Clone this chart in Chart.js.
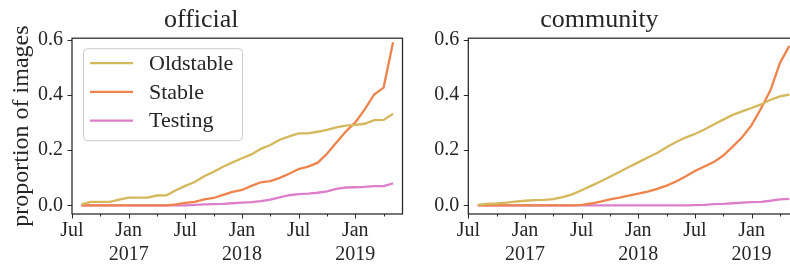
<!DOCTYPE html>
<html>
<head>
<meta charset="utf-8">
<script src="https://cdn.jsdelivr.net/npm/chart.js@4.4.1/dist/chart.umd.min.js"></script>
<style>
  html, body { margin: 0; padding: 0; background: #fff; overflow: hidden; }
  #wrap { position: relative; width: 790px; height: 269px; overflow: hidden; }
  canvas { position: absolute; top: 0; }
  #officialChart { left: 0; }
  #communityChart { left: 400px; }
</style>
</head>
<body>
<div id="wrap">
  <canvas id="officialChart" width="420" height="269"></canvas>
  <canvas id="communityChart" width="410" height="269"></canvas>
</div>
<script>
// months counted from Jul 2016 (0 = Jul 2016)
const months = [1, 2, 3, 4, 5, 6, 7, 8, 9, 10, 11, 12, 13, 14, 15, 16, 17,
                18, 19, 20, 21, 22, 23, 24, 25, 26, 27, 28, 29, 30, 31, 32, 33, 34];

const officialOldstable = [0.004, 0.013, 0.013, 0.013, 0.021, 0.028, 0.028, 0.028, 0.036, 0.037,
  0.055, 0.071, 0.085, 0.106, 0.122, 0.140, 0.156, 0.171, 0.185, 0.205, 0.219, 0.238, 0.250,
  0.261, 0.261, 0.267, 0.274, 0.283, 0.289, 0.292, 0.296, 0.309, 0.310, 0.332];
const officialStable = [0, 0, 0, 0, 0, 0, 0, 0, 0, 0,
  0.004, 0.009, 0.013, 0.022, 0.027, 0.038, 0.049, 0.056, 0.071, 0.084, 0.088, 0.100, 0.115,
  0.132, 0.141, 0.154, 0.187, 0.228, 0.268, 0.301, 0.348, 0.402, 0.427, 0.591];
const officialTesting = [0, 0, 0, 0, 0, 0, 0, 0, 0, 0, 0, 0,
  0.002, 0.004, 0.005, 0.006, 0.008, 0.010, 0.012, 0.016, 0.021, 0.029, 0.037,
  0.041, 0.043, 0.046, 0.051, 0.060, 0.065, 0.066, 0.067, 0.070, 0.070, 0.080];

const communityOldstable = [0.002, 0.006, 0.007, 0.010, 0.014, 0.017, 0.019, 0.020, 0.023, 0.030,
  0.040, 0.055, 0.071, 0.087, 0.104, 0.121, 0.139, 0.156, 0.174, 0.190, 0.211, 0.230, 0.246,
  0.259, 0.275, 0.293, 0.311, 0.328, 0.341, 0.353, 0.366, 0.383, 0.395, 0.402];
const communityStable = [0, 0, 0, 0, 0, 0, 0, 0, 0, 0, 0,
  0.002, 0.007, 0.014, 0.022, 0.028, 0.036, 0.043, 0.050, 0.060, 0.072, 0.087, 0.105,
  0.125, 0.141, 0.157, 0.181, 0.213, 0.247, 0.291, 0.351, 0.417, 0.516, 0.578];
const communityTesting = [0, 0, 0, 0, 0, 0, 0, 0, 0, 0, 0, 0, 0, 0, 0, 0, 0, 0, 0, 0, 0, 0, 0,
  0.001, 0.002, 0.005, 0.006, 0.008, 0.010, 0.012, 0.013, 0.017, 0.022, 0.024];

const seriesNames = ['Oldstable', 'Stable', 'Testing'];
const seriesColors = ['#d5b75c', '#ee844c', '#dd7ecb'];

const xTickMonths = [0, 3, 6, 9, 12, 15, 18, 21, 24, 27, 30, 33];
const xTickLabels = ['Jul', '', ['Jan', '2017'], '', 'Jul', '', ['Jan', '2018'], '', 'Jul', '', ['Jan', '2019'], ''];
const yTickValues = [0, 0.2, 0.4, 0.6];
const yTickLabels = ['0.0', '0.2', '0.4', '0.6'];

const ink = '#262626';
Chart.defaults.font.family = '"Liberation Serif", serif';
Chart.defaults.color = ink;

// box around the plot + outward tick marks (major / minor)
const framePlugin = {
  id: 'frame',
  afterDraw(chart) {
    const { ctx, chartArea: a } = chart;
    const x = chart.scales.x, y = chart.scales.y;
    ctx.save();
    ctx.strokeStyle = ink;
    ctx.lineWidth = 1.25;
    ctx.strokeRect(a.left, a.top, a.right - a.left, a.bottom - a.top);
    ctx.beginPath();
    xTickMonths.forEach((m, i) => {
      const px = Math.round(x.getPixelForValue(m)) + 0.5;
      const len = xTickLabels[i] === '' ? 2.5 : 4.5;
      ctx.moveTo(px, a.bottom);
      ctx.lineTo(px, a.bottom + len);
    });
    yTickValues.forEach(v => {
      const py = Math.round(y.getPixelForValue(v)) + 0.5;
      ctx.moveTo(a.left - 4.5, py);
      ctx.lineTo(a.left, py);
    });
    ctx.lineWidth = 1;
    ctx.stroke();
    ctx.restore();
  }
};

// matplotlib-style legend inside the plot, upper left
const boxLegend = {
  id: 'boxLegend',
  afterDraw(chart, args, opts) {
    if (!opts.show) return;
    const { ctx, chartArea: a } = chart;
    const left = a.left + 11, top = a.top + 10, w = 159, h = 92;
    ctx.save();
    ctx.beginPath();
    ctx.roundRect(left + 0.5, top + 0.5, w, h, 4);
    ctx.fillStyle = 'rgba(255,255,255,0.8)';
    ctx.fill();
    ctx.strokeStyle = '#cccccc';
    ctx.lineWidth = 1;
    ctx.stroke();
    ctx.font = '22px "Liberation Serif", serif';
    ctx.textBaseline = 'middle';
    ctx.fillStyle = ink;
    chart.data.datasets.forEach((ds, i) => {
      const cy = top + 15 + i * 28.7;
      ctx.beginPath();
      ctx.moveTo(left + 7, cy);
      ctx.lineTo(left + 50, cy);
      ctx.strokeStyle = ds.borderColor;
      ctx.lineWidth = 2.3;
      ctx.stroke();
      ctx.fillText(ds.label, left + 66, cy + 1);
    });
    ctx.restore();
  }
};

function makeChart(id, title, series, yAxisWidth, rightPad, withLegend, yTitle) {
  const ctx = document.getElementById(id).getContext('2d');
  return new Chart(ctx, {
    type: 'line',
    data: {
      datasets: series.map((vals, i) => ({
        label: seriesNames[i],
        data: months.map((m, j) => ({ x: m, y: vals[j] })),
        borderColor: seriesColors[i],
        borderWidth: 2.3,
        pointRadius: 0,
        tension: 0,
        fill: false
      }))
    },
    options: {
      responsive: false,
      animation: false,
      events: [],
      layout: { padding: { left: 0, right: rightPad, top: 0, bottom: 0 } },
      plugins: {
        legend: { display: false },
        tooltip: { enabled: false },
        title: {
          display: true,
          text: title,
          color: ink,
          font: { size: 26, weight: 'normal' },
          padding: { top: 5, bottom: 2 }
        },
        boxLegend: { show: withLegend }
      },
      scales: {
        x: {
          type: 'linear',
          min: 0,
          max: 35,
          grid: { display: false, drawTicks: false },
          border: { display: false },
          afterBuildTicks: s => { s.ticks = xTickMonths.map(v => ({ value: v })); },
          afterFit: s => { s.height = 55; },
          ticks: {
            autoSkip: false,
            maxRotation: 0,
            padding: 5,
            color: ink,
            font: { size: 20, lineHeight: 1.18 },
            callback: (v) => xTickLabels[xTickMonths.indexOf(v)]
          }
        },
        y: {
          min: -0.031,
          max: 0.606,
          grid: { display: false, drawTicks: false },
          border: { display: false },
          afterBuildTicks: s => { s.ticks = yTickValues.map(v => ({ value: v })); },
          afterFit: s => { s.width = yAxisWidth; },
          title: {
            display: !!yTitle,
            text: yTitle || '',
            color: ink,
            font: { size: 24, weight: 'normal' },
            padding: { top: 7, bottom: 0 }
          },
          ticks: {
            padding: 9,
            color: ink,
            font: { size: 20 },
            callback: (v) => yTickLabels[yTickValues.indexOf(v)]
          }
        }
      }
    },
    plugins: [framePlugin, boxLegend]
  });
}

makeChart('officialChart', 'official', [officialOldstable, officialStable, officialTesting], 72, 17.5, true, 'proportion of images');
makeChart('communityChart', 'community', [communityOldstable, communityStable, communityTesting], 68.3, 11.2, false, '');
</script>
</body>
</html>
